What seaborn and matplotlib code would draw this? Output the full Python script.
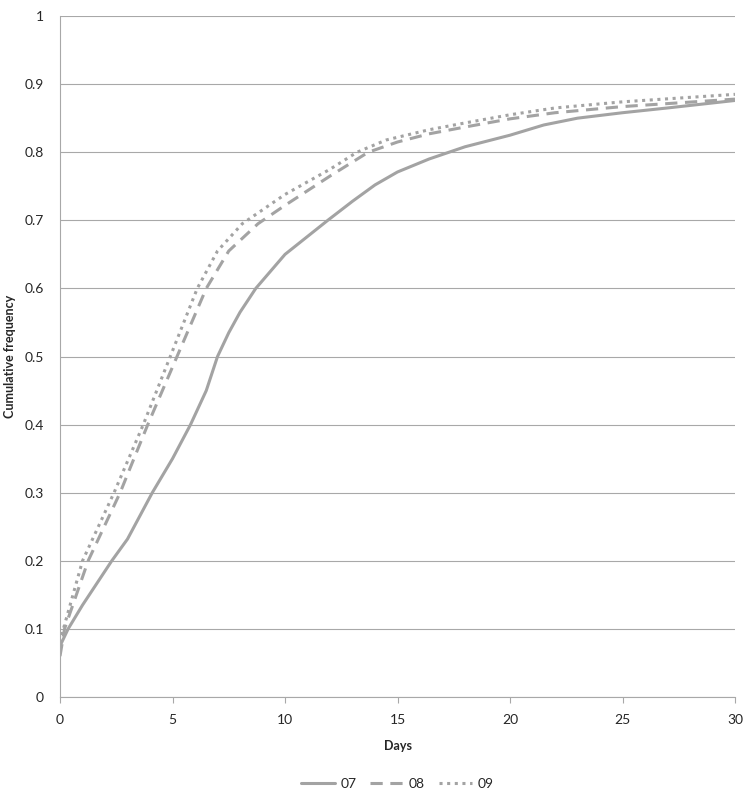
import pandas as pd
import matplotlib
matplotlib.use('Agg')
import matplotlib.pyplot as plt
import seaborn as sns

# values
days_07 = [0, 0.36, 1, 2.3, 3, 4.1, 5, 5.8, 6.5, 7, 7.5, 8, 8.7, 10, 11.9, 13, 14, 15, 16.4, 18, 20, 21.5, 23, 25, 27, 30]
freq_07 = [0.075, 0.1, 0.135, 0.2, 0.232, 0.3, 0.35, 0.4, 0.45, 0.5, 0.535, 0.565, 0.6, 0.65, 0.7, 0.728, 0.752, 0.771, 0.79, 0.808, 0.825, 0.84, 0.85, 0.858, 0.865, 0.876]

days_08 = [0, 0.2, 1.25, 2.67, 3.9, 5.2, 6.5, 7.5, 8.8, 10, 12, 13.7, 15, 16.4, 18, 20, 22, 25, 30]
freq_08 = [0.06, 0.1, 0.2, 0.3, 0.4, 0.5, 0.6, 0.655, 0.695, 0.722, 0.765, 0.8, 0.815, 0.827, 0.837, 0.849, 0.858, 0.867, 0.878]

days_09 = [0, 0.15, 1.0, 2.4, 3.7, 4.9, 6.1, 7, 8.1, 10, 12, 13.2, 14.5, 16.4, 18, 20, 22, 25, 30]
freq_09 = [0.08, 0.1, 0.2, 0.3, 0.4, 0.5, 0.6, 0.655, 0.695, 0.738, 0.775, 0.8, 0.818, 0.833, 0.843, 0.855, 0.865, 0.874, 0.885]

series = ['07', '08', '09']

df = pd.concat([
    pd.DataFrame({'Days': days_07, 'freq': freq_07, 'year': '07'}),
    pd.DataFrame({'Days': days_08, 'freq': freq_08, 'year': '08'}),
    pd.DataFrame({'Days': days_09, 'freq': freq_09, 'year': '09'}),
])

sns.set_style('white')
plt.rcParams['font.family'] = ['Lato', 'DejaVu Sans']

fig = plt.figure(figsize=(7.54, 8.01), dpi=100)
ax = fig.add_axes([0.0796, 0.1298, 0.8952, 0.8502])

grey = '#a3a3a3'
sns.lineplot(data=df, x='Days', y='freq', hue='year', style='year',
             palette={s: grey for s in series},
             dashes={'07': '', '08': (4, 2.5), '09': (1, 1.5)},
             linewidth=2.2, ax=ax, sort=False, estimator=None)

ax.set_xlim(0, 30)
ax.set_ylim(0, 1)
ax.set_xticks([0, 5, 10, 15, 20, 25, 30])
ax.set_yticks([0, 0.1, 0.2, 0.3, 0.4, 0.5, 0.6, 0.7, 0.8, 0.9, 1])
ax.set_yticklabels(['0', '0.1', '0.2', '0.3', '0.4', '0.5', '0.6', '0.7', '0.8', '0.9', '1'])
ax.yaxis.grid(True, color='#a8a8a8', linewidth=0.8)
ax.xaxis.grid(False)
for s in ['top', 'right']:
    ax.spines[s].set_visible(False)
for s in ['left', 'bottom']:
    ax.spines[s].set_color('#a8a8a8')
    ax.spines[s].set_linewidth(0.8)
ax.tick_params(axis='x', bottom=True, length=4, color='#a8a8a8', labelsize=10, pad=8)
ax.tick_params(axis='y', left=False, labelsize=10, pad=8)

ax.set_xlabel('Days', fontsize=9, fontweight='bold', labelpad=10)
ax.set_ylabel('Cumulative frequency', fontsize=9, fontweight='bold', labelpad=6)

handles, labels = ax.get_legend_handles_labels()
ax.legend(handles, labels, loc='center', bbox_to_anchor=(0.5, -0.127),
          ncol=3, frameon=False, fontsize=10, handlelength=2.4,
          handletextpad=0.4, columnspacing=1.0)

fig.savefig('out.png', dpi=100)
